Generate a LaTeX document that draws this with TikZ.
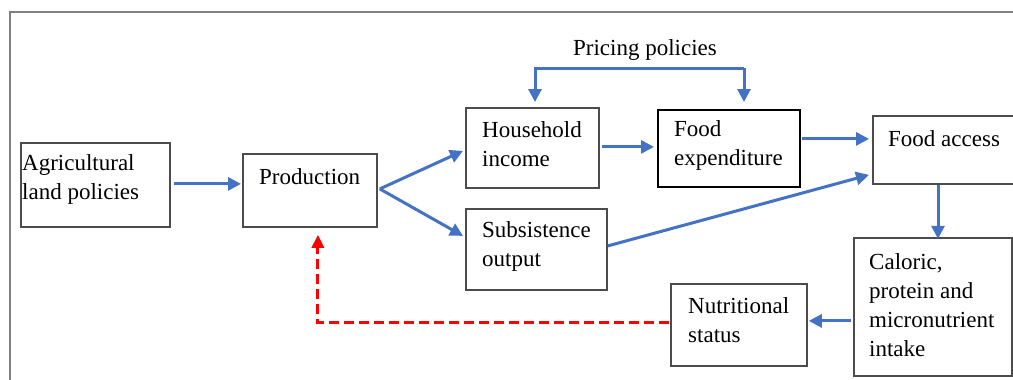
\documentclass[tikz,border=0pt]{standalone}
\usepackage{fontspec}
\setmainfont{Liberation Serif}
\usetikzlibrary{arrows.meta,calc}
\definecolor{arrblue}{HTML}{4472C4}
\definecolor{frameg}{HTML}{808080}
\tikzset{
  box/.style={draw=black!70, line width=1.8pt, inner sep=0pt, anchor=north west},
  txt/.style={anchor=west, align=left, inner sep=0pt, font=\fontsize{23}{29}\selectfont},
  arr/.style={draw=arrblue, line width=3pt, -{Triangle[length=13pt,width=13pt]}},
  fb/.style={draw=red, line width=3pt, dash pattern=on 10pt off 5pt, -{Triangle[length=13pt,width=12pt]}}
}
\begin{document}
\begin{tikzpicture}[x=1pt,y=-1pt]
\useasboundingbox (0,0) rectangle (1013,380);
\fill[white] (0,0) rectangle (1013,380);
% outer frame
\draw[frameg, line width=2pt] (10,380) -- (10,12) -- (1013,12);
% boxes
\node[box, minimum width=149pt, minimum height=84pt] (agri) at (20,142) {};
\node[box, minimum width=134pt, minimum height=73pt] (prod) at (242,153) {};
\node[box, minimum width=133pt, minimum height=80pt] (hh) at (465,107) {};
\node[box, minimum width=142pt, minimum height=77pt, draw=black] (fe) at (657,109) {};
\node[box, minimum width=160pt, minimum height=68pt] (fa) at (872,115) {};
\node[box, minimum width=141pt, minimum height=81pt] (sub) at (465,208) {};
\node[box, minimum width=158pt, minimum height=138pt] (cal) at (853,237) {};
\node[box, minimum width=136pt, minimum height=82pt] (ns) at (670,283) {};
% texts
\node[txt] (agrit) at (22,179) {Agricultural\\land policies};
\node[txt] (prodt) at (259,177) {Production};
\node[txt] (hht) at (482,144) {Household\\income};
\node[txt] (fet) at (674,145) {Food\\expenditure};
\node[txt] (fat) at (888,139) {Food access};
\node[txt] (subt) at (482,246) {Subsistence\\output};
\node[txt] (calt) at (869,305) {Caloric,\\protein and\\micronutrient\\intake};
\node[txt] (nst) at (688,320) {Nutritional\\status};
\node[txt, anchor=center] (price) at (645,50) {Pricing policies};
% connectors
\draw[arr] ($(agri.east)+(3,-1)$) -- ($(prod.west)+(-1,-6.5)$);
\draw[arr] ($(prod.east)+(2,-1.5)$) -- ($(hh.west)+(-2,3)$);
\draw[arr] ($(prod.east)+(2,-1.5)$) -- ($(sub.west)+(-2,-13.5)$);
\draw[arr] ($(hh.east)+(2,-1)$) -- ($(fe.west)+(-3,-1.5)$);
\draw[arr] ($(fe.east)+(1,-9.5)$) -- ($(fa.west)+(-3,-11)$);
\draw[arr] ($(sub.east)+(0,-3.5)$) -- ($(fa.west)+(-3,25)$);
\coordinate (pl) at (535,68);
\coordinate (pr) at (744,68);
\draw[arr, line join=miter] (pr) -- (pl) -- ($(pl |- hh.north)+(0,-5)$);
\draw[arr] (pr) -- ($(pr |- fe.north)+(0,-7)$);
\draw[arr] ($(fa.south west)+(66,0)$) -- ($(fa.south west)+(66,54)$);
\draw[arr] ($(cal.west)+(-2,14)$) -- ($(ns.east)+(1,-4)$);
\draw[fb, line join=miter] ($(ns.west)+(-1,-2)$) -| ($(prod.south)+(8,7)$);
\end{tikzpicture}
\end{document}
